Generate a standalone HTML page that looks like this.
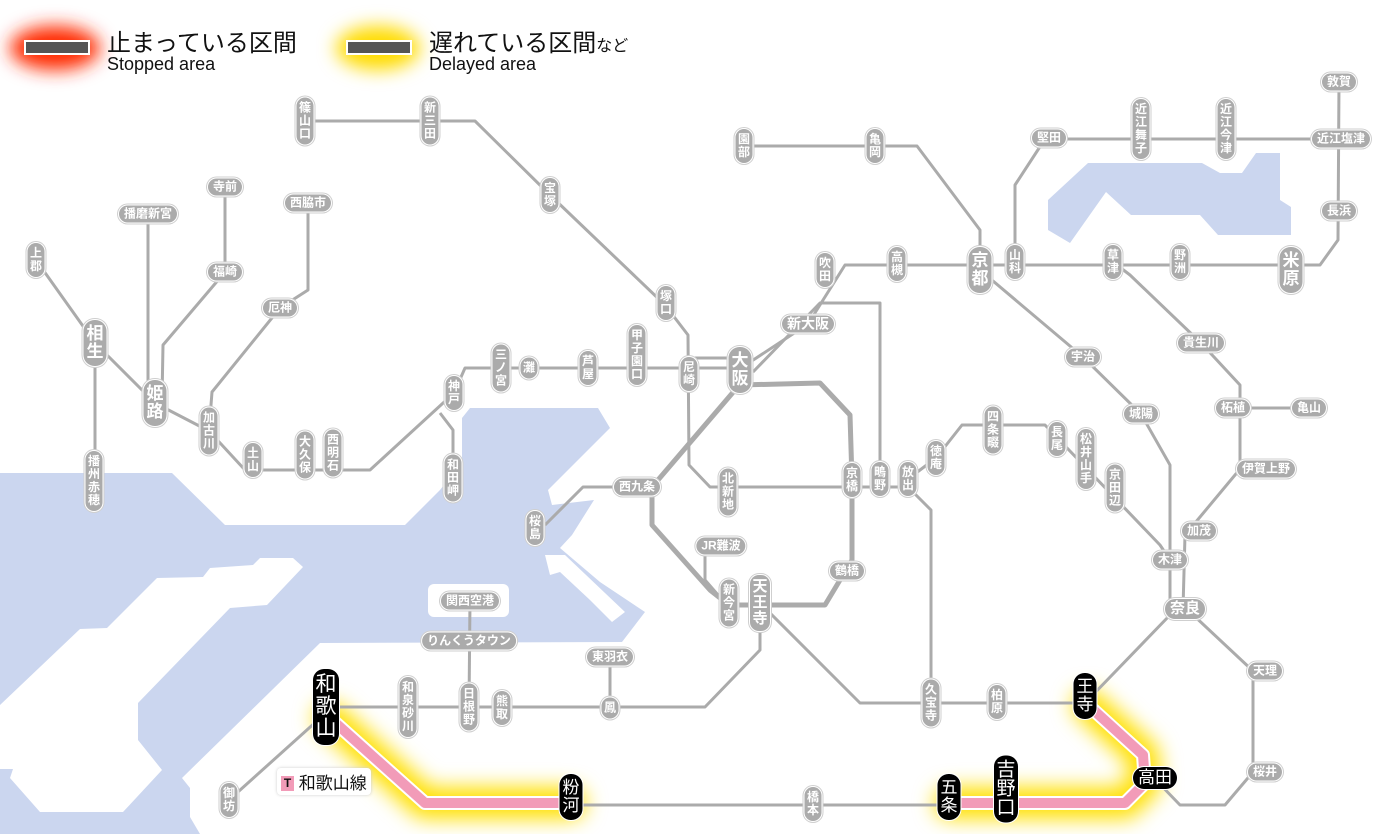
<!DOCTYPE html>
<html><head><meta charset="utf-8">
<style>
html,body{margin:0;padding:0;background:#fff;}
#w{position:relative;width:1400px;height:834px;overflow:hidden;font-family:"Liberation Sans","Noto Sans CJK JP",sans-serif;}
svg{position:absolute;left:0;top:0;}
.s{position:absolute;transform:translate(-50%,-50%);background:#ababab;color:#fff;border-radius:9px;font-size:12px;line-height:13px;text-align:center;box-shadow:0 0 0 1px #fff,0 0 0 2px #cfcfcf;white-space:nowrap;font-weight:bold;}
.v{width:17px;padding:4px 0;}
.h{height:17px;line-height:17px;padding:0 5px;}
.b{font-size:17px;line-height:18px;width:23px;border-radius:11px;padding:5px 0;}
.k{background:#000;box-shadow:0 0 0 1px #fff;font-weight:normal;}
.t{position:absolute;font-family:"Liberation Sans","Noto Sans CJK JP",sans-serif;color:#111;white-space:nowrap;}
</style></head><body><div id="w">
<svg width="1400" height="834" viewBox="0 0 1400 834">
<defs>
<filter id="bl" x="-50%" y="-50%" width="200%" height="200%"><feGaussianBlur stdDeviation="9"/></filter>
<filter id="bl2" x="-50%" y="-50%" width="200%" height="200%"><feGaussianBlur stdDeviation="10"/></filter>
</defs>
<g fill="#cbd6ef">
<path d="M0,473 L172,473 L225,525 L405,525 L440,490 L462,462 L462,418 L470,408 L598,408 L610,428 L548,490 L552,505 L594,500 L572,535 L560,548 L600,582 L645,612 L622,642 L320,643 L182,778 L190,788 L190,817 L200,834 L0,834 Z"/>
<path d="M1088,163 L1202,163 L1220,173 L1242,173 L1256,153 L1280,153 L1280,200 L1291,207 L1291,235 L1218,235 L1200,215 L1131,215 L1106,192 L1070,243 L1048,230 L1048,200 Z"/>
</g>
<g fill="#fff">
<path d="M260,558 L293,558 L303,567 L267,605 L230,608 L138,703 L138,740 L162,770 L123,812 L40,812 L10,778 L13,769 L0,769 L0,705 L80,629 L107,628 L157,578 L203,577 L210,568 L253,565 Z"/>
<rect x="428" y="584" width="81" height="33" rx="6"/>
<path d="M545,555 L565,555 L625,612 L612,622 L590,600 L560,572 L550,575 Z"/>
</g>
<ellipse cx="55" cy="48" rx="45" ry="22" fill="#ff2a00" filter="url(#bl)"/>
<ellipse cx="378" cy="48" rx="42" ry="22" fill="#ffdc00" filter="url(#bl)"/>
<rect x="25" y="41" width="64" height="13" fill="#555" stroke="#fff" stroke-width="2"/>
<rect x="347" y="41" width="64" height="13" fill="#555" stroke="#fff" stroke-width="2"/>
<g fill="none" stroke-linejoin="round" stroke-linecap="round">
<path d="M330,718 L425,803 L570,803" stroke="#ffe000" stroke-width="32" filter="url(#bl2)"/>
<path d="M950,803 L1125,803 L1145,783 L1143,755 L1088,705" stroke="#ffe000" stroke-width="32" filter="url(#bl2)"/>
</g>
<g fill="none" stroke="#ababab" stroke-width="3" stroke-linejoin="round">
<polyline points="305,121 475,121 550,195 665,305 688,335 689,465 710,487 908,487"/>
<polyline points="36,260 95,343 155,403 209,431 245,470 370,470 454,393 465,368 740,368"/>
<polyline points="689,358 740,358"/>
<polyline points="95,343 95,481"/>
<polyline points="148,214 148,400"/>
<polyline points="225,187 225,272 163,345 162,400"/>
<polyline points="308,203 308,290 280,308 212,392 209,431"/>
<polyline points="440,413 453,430 453,478"/>
<polyline points="735,372 808,324 845,265 1320,265 1338,240 1339,82"/>
<polyline points="753,372 820,303 880,303 880,479"/>
<polyline points="1341,139 1045,139 1015,185 1015,262"/>
<polyline points="744,146 917,146 980,230 980,270"/>
<polyline points="620,487 583,487 545,525"/>
<polyline points="705,546 705,580 725,603"/>
<polyline points="980,270 1083,357 1141,414 1170,465 1170,609"/>
<polyline points="1113,262 1130,275 1201,343 1240,385 1240,469 1185,535 1183,609"/>
<polyline points="1240,408 1309,408"/>
<polyline points="908,479 936,458 962,425 1045,425 1160,545 1170,560"/>
<polyline points="908,487 931,510 931,703"/>
<polyline points="760,603 860,703 1085,703 1170,615"/>
<polyline points="1190,612 1253,671 1253,772 1225,805 1180,805 1153,777"/>
<polyline points="760,610 760,650 705,707 340,707"/>
<polyline points="610,657 610,707"/>
<polyline points="470,601 469,707"/>
<polyline points="318,720 229,800"/>
<polyline points="570,805 950,805"/>
</g>
<g fill="none" stroke="#ababab" stroke-width="5" stroke-linejoin="round">
<polyline points="740,385 820,383 850,415 852,480 852,560 825,605 729,605 710,590 652,525 652,487 735,390"/>
</g>
<g fill="none" stroke-linejoin="round">
<path d="M330,718 L425,803 L570,803" stroke="#fff" stroke-width="14"/>
<path d="M950,803 L1125,803 L1145,783 L1143,755 L1088,705" stroke="#fff" stroke-width="14"/>
<path d="M330,718 L425,803 L570,803" stroke="#f29bb8" stroke-width="10"/>
<path d="M950,803 L1125,803 L1145,783 L1143,755 L1088,705" stroke="#f29bb8" stroke-width="10"/>
</g>
</svg>

<div class="t" style="left:107px;top:23px;font-size:24px;">止まっている区間</div>
<div class="t" style="left:107px;top:54px;font-size:18px;">Stopped area</div>
<div class="t" style="left:429px;top:23px;font-size:24px;">遅れている区間<span style="font-size:16px">など</span></div>
<div class="t" style="left:429px;top:54px;font-size:18px;">Delayed area</div>

<div class="t" style="left:277px;top:768px;font-size:17px;background:#fff;padding:1px 4px;border-radius:4px;box-shadow:0 0 3px #ccc;"><span style="display:inline-block;background:#f29bb8;font-size:12px;font-weight:bold;width:13px;text-align:center;line-height:15px;vertical-align:2px">T</span> 和歌山線</div>

<div class="s v" style="left:305px;top:121px">篠<br>山<br>口</div>
<div class="s v" style="left:430px;top:121px">新<br>三<br>田</div>
<div class="s v" style="left:550px;top:195px">宝<br>塚</div>
<div class="s v" style="left:36px;top:260px">上<br>郡</div>
<div class="s v b" style="left:95px;top:343px">相<br>生</div>
<div class="s v b" style="left:155px;top:403px">姫<br>路</div>
<div class="s v" style="left:209px;top:431px">加<br>古<br>川</div>
<div class="s v" style="left:253px;top:460px">土<br>山</div>
<div class="s v" style="left:305px;top:455px">大<br>久<br>保</div>
<div class="s v" style="left:333px;top:453px">西<br>明<br>石</div>
<div class="s v" style="left:454px;top:393px">神<br>戸</div>
<div class="s v" style="left:501px;top:368px">三<br>ノ<br>宮</div>
<div class="s v" style="left:529px;top:368px">灘</div>
<div class="s v" style="left:588px;top:368px">芦<br>屋</div>
<div class="s v" style="left:637px;top:355px">甲<br>子<br>園<br>口</div>
<div class="s v" style="left:666px;top:303px">塚<br>口</div>
<div class="s v" style="left:689px;top:374px">尼<br>崎</div>
<div class="s v b" style="left:740px;top:370px">大<br>阪</div>
<div class="s v" style="left:453px;top:478px">和<br>田<br>岬</div>
<div class="s v" style="left:94px;top:481px">播<br>州<br>赤<br>穂</div>
<div class="s v" style="left:535px;top:528px">桜<br>島</div>
<div class="s v" style="left:728px;top:492px">北<br>新<br>地</div>
<div class="s v" style="left:852px;top:480px">京<br>橋</div>
<div class="s v" style="left:880px;top:479px">鴫<br>野</div>
<div class="s v" style="left:908px;top:479px">放<br>出</div>
<div class="s v" style="left:936px;top:458px">徳<br>庵</div>
<div class="s v" style="left:993px;top:430px">四<br>条<br>畷</div>
<div class="s v" style="left:1057px;top:439px">長<br>尾</div>
<div class="s v" style="left:1086px;top:459px">松<br>井<br>山<br>手</div>
<div class="s v" style="left:1115px;top:488px">京<br>田<br>辺</div>
<div class="s v" style="left:729px;top:603px">新<br>今<br>宮</div>
<div class="s v" style="left:760px;top:603px;font-size:15px;line-height:16px;width:20px">天<br>王<br>寺</div>
<div class="s v" style="left:825px;top:270px">吹<br>田</div>
<div class="s v" style="left:897px;top:264px">高<br>槻</div>
<div class="s v b" style="left:980px;top:270px">京<br>都</div>
<div class="s v" style="left:1015px;top:262px">山<br>科</div>
<div class="s v" style="left:1113px;top:262px">草<br>津</div>
<div class="s v" style="left:1180px;top:262px">野<br>洲</div>
<div class="s v b" style="left:1291px;top:270px">米<br>原</div>
<div class="s v" style="left:744px;top:146px">園<br>部</div>
<div class="s v" style="left:875px;top:146px">亀<br>岡</div>
<div class="s v" style="left:1141px;top:129px">近<br>江<br>舞<br>子</div>
<div class="s v" style="left:1226px;top:129px">近<br>江<br>今<br>津</div>
<div class="s v" style="left:931px;top:703px">久<br>宝<br>寺</div>
<div class="s v" style="left:997px;top:702px">柏<br>原</div>
<div class="s v" style="left:229px;top:800px">御<br>坊</div>
<div class="s v" style="left:408px;top:707px">和<br>泉<br>砂<br>川</div>
<div class="s v" style="left:469px;top:707px">日<br>根<br>野</div>
<div class="s v" style="left:502px;top:708px">熊<br>取</div>
<div class="s v" style="left:610px;top:708px">鳳</div>
<div class="s v" style="left:813px;top:804px">橋<br>本</div>
<div class="s v b k" style="left:1085px;top:696px">王<br>寺</div>
<div class="s v b k" style="left:1006px;top:789px;font-size:19px;line-height:19px;width:24px">吉<br>野<br>口</div>
<div class="s v b k" style="left:949px;top:797px">五<br>条</div>
<div class="s v b k" style="left:571px;top:797px">粉<br>河</div>
<div class="s v b k" style="left:326px;top:707px;font-size:21px;line-height:22px;width:26px">和<br>歌<br>山</div>

<div class="s h" style="left:225px;top:187px">寺前</div>
<div class="s h" style="left:148px;top:214px">播磨新宮</div>
<div class="s h" style="left:308px;top:203px">西脇市</div>
<div class="s h" style="left:225px;top:272px">福崎</div>
<div class="s h" style="left:280px;top:308px">厄神</div>
<div class="s h" style="left:808px;top:324px;font-size:14px">新大阪</div>
<div class="s h" style="left:637px;top:487px">西九条</div>
<div class="s h" style="left:721px;top:546px">JR難波</div>
<div class="s h" style="left:847px;top:571px">鶴橋</div>
<div class="s h" style="left:470px;top:601px">関西空港</div>
<div class="s h" style="left:469px;top:641px">りんくうタウン</div>
<div class="s h" style="left:610px;top:657px">東羽衣</div>
<div class="s h" style="left:1083px;top:357px">宇治</div>
<div class="s h" style="left:1141px;top:414px">城陽</div>
<div class="s h" style="left:1201px;top:343px">貴生川</div>
<div class="s h" style="left:1233px;top:408px">柘植</div>
<div class="s h" style="left:1309px;top:408px">亀山</div>
<div class="s h" style="left:1266px;top:469px">伊賀上野</div>
<div class="s h" style="left:1199px;top:531px">加茂</div>
<div class="s h" style="left:1170px;top:560px">木津</div>
<div class="s h" style="left:1185px;top:609px;font-size:15px;height:20px;line-height:20px;border-radius:10px">奈良</div>
<div class="s h" style="left:1265px;top:671px">天理</div>
<div class="s h" style="left:1265px;top:772px">桜井</div>
<div class="s h" style="left:1049px;top:138px">堅田</div>
<div class="s h" style="left:1339px;top:82px">敦賀</div>
<div class="s h" style="left:1341px;top:139px">近江塩津</div>
<div class="s h" style="left:1339px;top:211px">長浜</div>
<div class="s h k" style="left:1155px;top:778px;font-size:17px;height:22px;line-height:22px;border-radius:11px">高田</div>
</div></body></html>
